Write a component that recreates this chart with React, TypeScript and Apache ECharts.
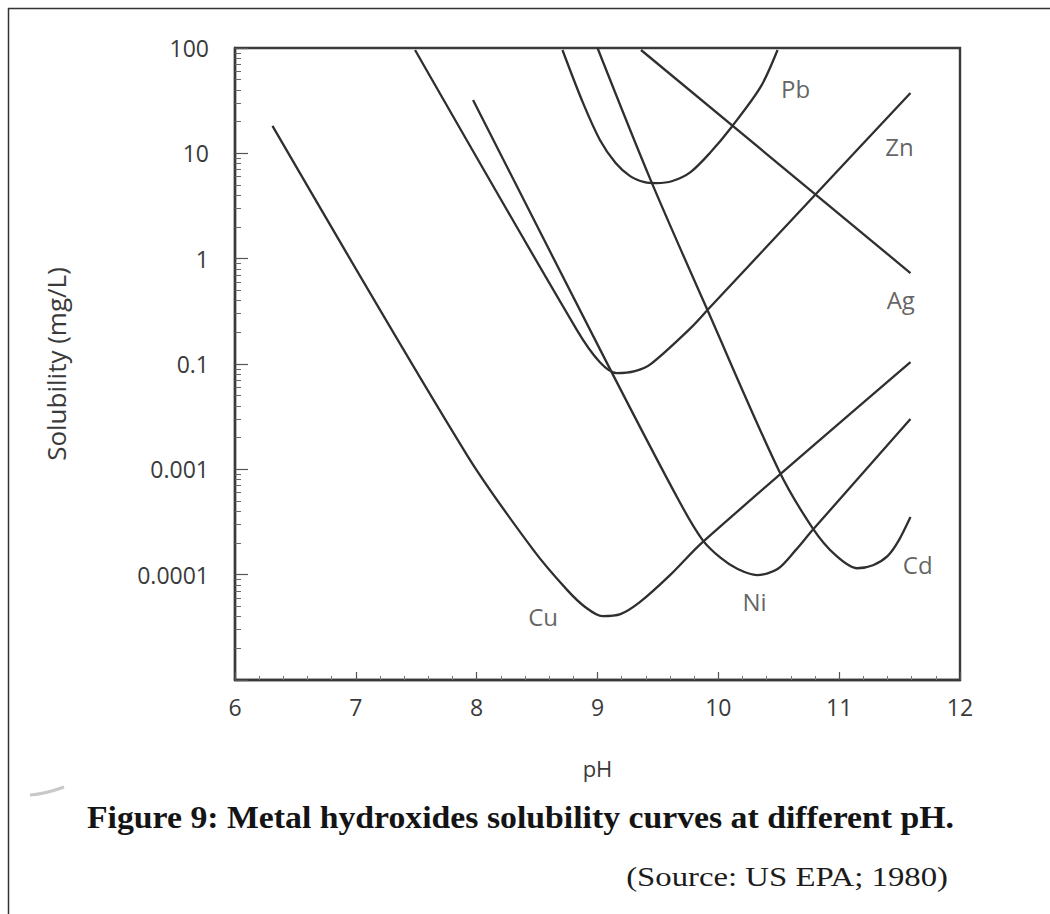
import React, { useEffect, useRef } from "react";
import * as echarts from "echarts";

// x axis (pH)
const xTicks = [6, 7, 8, 9, 10, 11, 12];
// y axis tick values and the labels printed at them in the source figure
const yTickValues = [100, 10, 1, 0.1, 0.01, 0.001, 0.0001];
const yTickLabels = ["100", "10", "1", "0.1", "0.001", "0.0001", ""];

// curves: pH and solubility (mg/L, position on the log axis)
const cuPH = [6.31, 7.92, 8.47, 8.75, 8.9, 9.04, 9.19, 9.35, 9.6, 9.87, 11.59];
const cuSol = [18.2, 0.01365, 1.71e-3, 7.13e-4, 4.91e-4, 4.04e-4, 4.22e-4, 5.48e-4, 9.9e-4, 2.04e-3, 0.104];

const znPH = [7.49, 8.83, 9.02, 9.16, 9.31, 9.44, 9.77, 9.91, 10.8, 11.59];
const znSol = [95.7, 0.21, 0.104, 0.082, 0.0857, 0.0998, 0.219, 0.325, 4.02, 37.4];

const niPH = [7.97, 9.1, 9.68, 9.87, 10.02, 10.16, 10.32, 10.49, 10.64, 10.78, 11.59];
const niSol = [32.1, 0.0914, 4.89e-3, 2.13e-3, 1.44e-3, 1.13e-3, 9.9e-4, 1.13e-3, 1.71e-3, 2.65e-3, 0.03];

const pbPH = [8.71, 8.88, 9.02, 9.15, 9.27, 9.39, 9.49, 9.62, 9.77, 9.93, 10.11, 10.35, 10.49];
const pbSol = [95.7, 30.1, 13.4, 8.09, 6.08, 5.33, 5.22, 5.46, 6.64, 10.07, 17.8, 42.7, 95.7];

const cdPH = [9.0, 9.44, 9.91, 10.5, 10.78, 10.97, 11.15, 11.28, 11.4, 11.49, 11.59];
const cdSol = [100, 5.57, 0.325, 9.8e-3, 2.77e-3, 1.53e-3, 1.15e-3, 1.23e-3, 1.5e-3, 2.08e-3, 3.52e-3];

const agPH = [9.36, 11.59];
const agSol = [95.7, 0.73];

// curve labels
const labelNames = ["Pb", "Zn", "Ag", "Cd", "Ni", "Cu"];
const labelPH = [10.64, 11.5, 11.51, 11.65, 10.3, 8.55];
const labelSol = [41.7, 11.5, 0.407, 1.26e-3, 5.6e-4, 3.98e-4];

const curves = [
  { name: "Cu", ph: cuPH, sol: cuSol },
  { name: "Zn", ph: znPH, sol: znSol },
  { name: "Ni", ph: niPH, sol: niSol },
  { name: "Pb", ph: pbPH, sol: pbSol },
  { name: "Cd", ph: cdPH, sol: cdSol },
  { name: "Ag", ph: agPH, sol: agSol },
];

const TEXT = "#3a3a3a";
const LINE = "#2f2f2f";
const FONT = "Open Sans";

export default function App() {
  const ref = useRef<HTMLDivElement>(null);
  useEffect(() => {
    if (!ref.current) return;
    const chart = echarts.init(ref.current, null, { renderer: "svg" });
    const yLabel = (v: number) => {
      for (let i = 0; i < yTickValues.length; i++) {
        if (Math.abs(Math.log10(v) - Math.log10(yTickValues[i])) < 1e-6) return yTickLabels[i];
      }
      return "";
    };
    const lineSeries = curves.map((c) => ({
      name: c.name,
      type: "line",
      data: c.ph.map((p, i) => [p, c.sol[i]]),
      symbol: "none",
      smooth: 0.3,
      lineStyle: { color: LINE, width: 2.3 },
      silent: true,
      z: 3,
    }));
    chart.setOption({
      animation: false,
      backgroundColor: "#ffffff",
      grid: {
        left: 235,
        right: 90,
        top: 48,
        bottom: 234,
        show: true,
        borderColor: "#3a3a3a",
        borderWidth: 2.4,
        backgroundColor: "transparent",
      },
      xAxis: {
        type: "value",
        min: xTicks[0],
        max: xTicks[xTicks.length - 1],
        interval: 1,
        axisLine: { show: true, lineStyle: { color: "#3a3a3a", width: 2.4 } },
        axisTick: { show: true, inside: true, length: 8, lineStyle: { color: "#555", width: 1.2 } },
        minorTick: { show: true, splitNumber: 5, length: 4, lineStyle: { color: "#777", width: 1 } },
        splitLine: { show: false },
        axisLabel: { margin: 15, fontSize: 23, color: TEXT, fontFamily: FONT },
        name: "pH",
        nameLocation: "middle",
        nameGap: 77,
        nameTextStyle: { fontSize: 22, color: TEXT, fontFamily: FONT },
      },
      yAxis: {
        type: "log",
        logBase: 10,
        min: 0.0001,
        max: 100,
        splitNumber: 6,
        axisLine: { show: true, lineStyle: { color: "#3a3a3a", width: 2.4 } },
        axisTick: { show: true, inside: true, length: 13, lineStyle: { color: "#555", width: 1.2 } },
        minorTick: { show: true, splitNumber: 9, length: 6, lineStyle: { color: "#666", width: 1 } },
        splitLine: { show: false },
        axisLabel: { margin: 26, fontSize: 23, color: TEXT, fontFamily: FONT, formatter: yLabel },
        name: "Solubility (mg/L)",
        nameLocation: "middle",
        nameGap: 166,
        nameTextStyle: { fontSize: 26, color: TEXT, fontFamily: FONT },
      },
      series: [
        ...lineSeries,
        {
          type: "scatter",
          name: "labels",
          data: labelNames.map((n, i) => ({ name: n, value: [labelPH[i], labelSol[i]] })),
          symbolSize: 0,
          silent: true,
          label: {
            show: true,
            position: "inside",
            formatter: "{b}",
            fontSize: 24,
            color: TEXT,
            fontFamily: FONT,
          },
          z: 4,
        },
      ],
      graphic: [
        { type: "line", shape: { x1: 8, y1: 8.5, x2: 1050, y2: 8.5 }, style: { stroke: "#333", lineWidth: 1.5 } },
        { type: "line", shape: { x1: 8.5, y1: 8, x2: 8.5, y2: 914 }, style: { stroke: "#333", lineWidth: 1.5 } },
        {
          type: "bezierCurve",
          shape: { x1: 30, y1: 795, cpx1: 45, cpy1: 794, x2: 64, y2: 787 },
          style: { stroke: "#c8c8c8", lineWidth: 3, fill: "none" },
        },
        {
          type: "text",
          x: 87,
          y: 801,
          scaleX: 1.055,
          style: {
            text: "Figure 9: Metal hydroxides solubility curves at different pH.",
            font: 'bold 32px "Liberation Serif"',
            fill: "#141414",
            verticalAlign: "top",
          },
        },
        {
          type: "text",
          x: 948,
          y: 863,
          scaleX: 1.17,
          style: {
            text: "(Source: US EPA; 1980)",
            font: '28px "Liberation Serif"',
            fill: "#1c1c1c",
            align: "right",
            verticalAlign: "top",
          },
        },
      ],
    });
    return () => chart.dispose();
  }, []);
  return (
    <div
      ref={ref}
      style={{ position: "fixed", left: 0, top: 0, width: 1050, height: 914, background: "#fff" }}
    />
  );
}
